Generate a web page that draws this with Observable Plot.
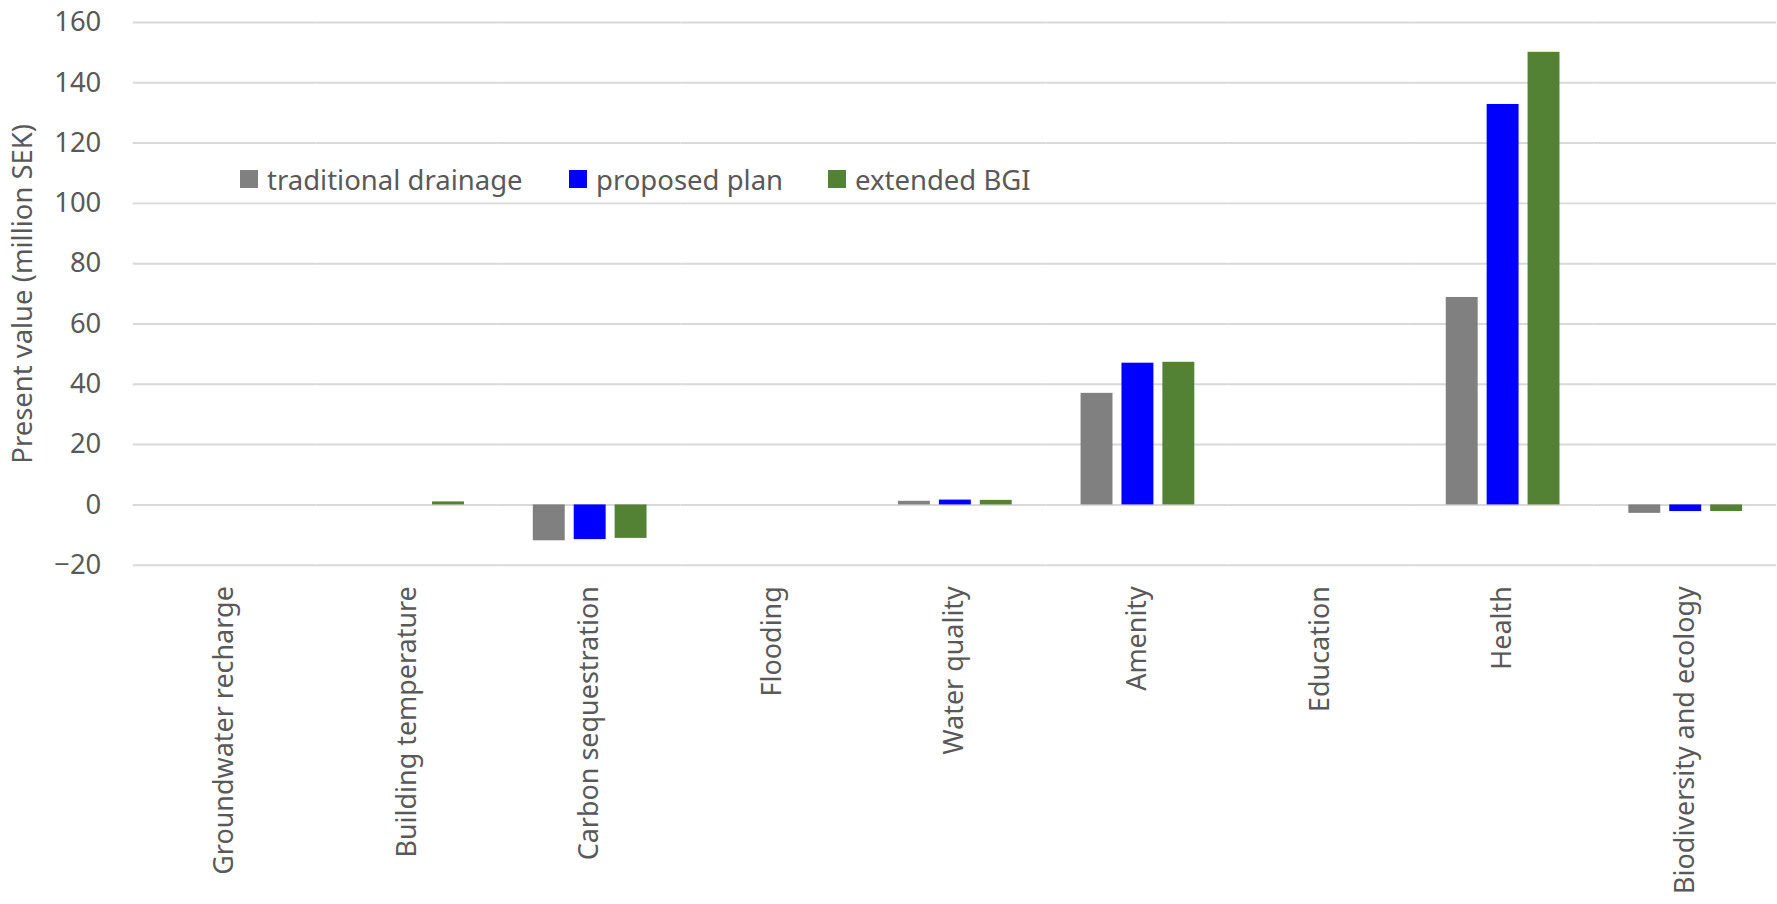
<!DOCTYPE html>
<html><head><meta charset="utf-8">
<script src="https://cdn.jsdelivr.net/npm/d3@7"></script>
<script src="https://cdn.jsdelivr.net/npm/@observablehq/plot@0.6"></script>
<style>
body{margin:0;background:#fff;font-family:"Noto Sans",sans-serif;}
#wrap{position:relative;width:1777px;height:904px;overflow:hidden;}
.item{position:absolute;top:160px;height:38px;display:flex;align-items:center;white-space:nowrap;font-size:27.5px;color:#595959;font-family:"Noto Sans",sans-serif;}
.sw{width:18px;height:18px;margin-right:9px;flex:none}
</style></head><body><div id="wrap"></div>
<script>
const categories = ["Groundwater recharge","Building temperature","Carbon sequestration","Flooding","Water quality","Amenity","Education","Health","Biodiversity and ecology"];
const series = ["traditional drainage","proposed plan","extended BGI"];
const colors = ["#808080","#0000ff","#548235"];
const traditional = [0, 0, -11.9, 0, 1.2, 37.0, 0, 68.8, -2.8];
const proposed    = [0, 0, -11.5, 0, 1.6, 47.0, 0, 132.8, -2.2];
const extended    = [0, 1.0, -11.1, 0, 1.5, 47.3, 0, 150.1, -2.2];
const yTicks = [-20, 0, 20, 40, 60, 80, 100, 120, 140, 160];
const yLabel = "Present value (million SEK)";

const valuesBySeries = [traditional, proposed, extended];
const data = categories.flatMap((c, i) => series.map((s, j) => ({category: c, series: s, value: valuesBySeries[j][i]})));

const chart = Plot.plot({
  width: 1781, height: 904,
  marginTop: 22, marginBottom: 338, marginLeft: 131, marginRight: 0,
  style: {fontFamily: "Noto Sans", fontSize: "27px", color: "#595959", background: "white"},
  fx: {domain: categories, padding: 0},
  x: {domain: series, paddingInner: 0.22, paddingOuter: 0.84, axis: null},
  y: {domain: [-20, 160]},
  color: {domain: series, range: colors},
  marks: [
    Plot.gridY(yTicks, {stroke: "#d9d9d9", strokeWidth: 2, strokeOpacity: 1}),
    Plot.barY(data, {fx: "category", x: "series", y: "value", fill: "series"}),
    Plot.axisY(yTicks, {tickSize: 0, tickPadding: 32, fontSize: 27.5, fill: "#595959", label: yLabel, labelArrow: "none", labelAnchor: "center", labelOffset: 121}),
    Plot.axisFx({anchor: "bottom", tickSize: 0, tickPadding: 21, tickRotate: -90, fontSize: 27, fill: "#595959", label: null})
  ]
});
const wrap = document.getElementById("wrap");
wrap.appendChild(chart);

const legendLeft = [240, 569, 828];
series.forEach((s, j) => {
  const it = document.createElement("div");
  it.className = "item";
  it.style.left = legendLeft[j] + "px";
  const sw = document.createElement("span");
  sw.className = "sw";
  sw.style.background = colors[j];
  const tx = document.createElement("span");
  tx.textContent = s;
  it.appendChild(sw); it.appendChild(tx);
  wrap.appendChild(it);
});
</script></body></html>
